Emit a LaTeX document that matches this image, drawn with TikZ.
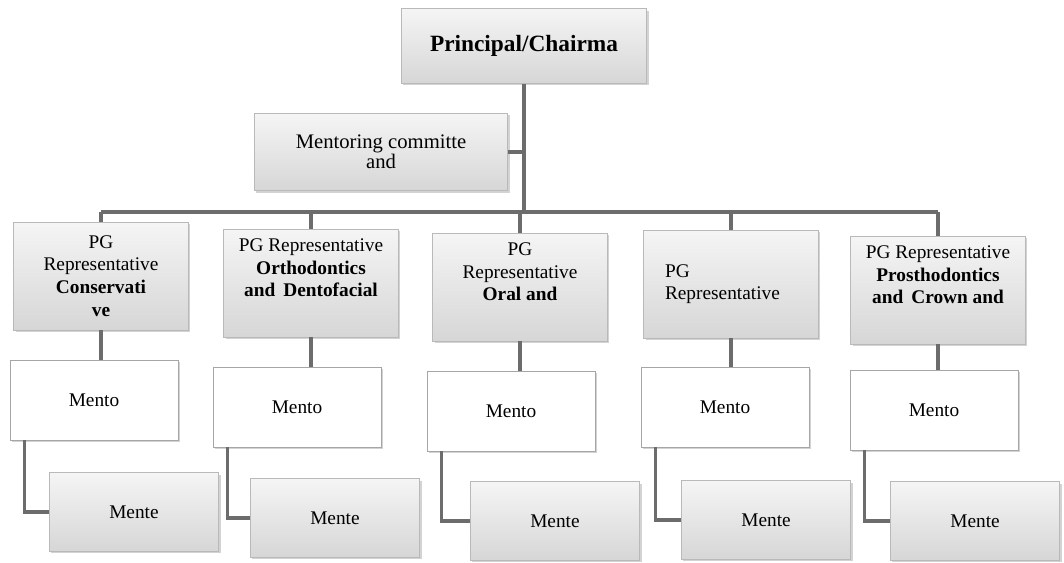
\documentclass[tikz,border=0pt]{standalone}
\usepackage{fontspec}
\setmainfont{Liberation Serif}
\usetikzlibrary{calc,shapes,arrows,shadows}

\tikzset{
  grybox/.style={draw=gray!55, top color=gray!8, bottom color=gray!32,
    drop shadow={shadow xshift=1.5pt, shadow yshift=-1.5pt, opacity=.35},
    align=center, inner sep=2pt},
  whtbox/.style={draw=gray!70, fill=white,
    drop shadow={shadow xshift=1.5pt, shadow yshift=-1.5pt, opacity=.35},
    minimum width=126pt, minimum height=60pt},
  pgbox/.style={grybox, minimum width=131pt, minimum height=81pt,
    font=\fontsize{14.5}{17}\selectfont},
  link/.style={draw=gray!85!black, line width=2.6pt},
}

\begin{document}
\begin{tikzpicture}[x=0.75pt,y=-0.75pt]
    \useasboundingbox (0,0) rectangle (1064,562);

    % top of the chart
    \node[grybox, minimum width=184pt, minimum height=56pt,
        font=\fontsize{17.5}{20}\selectfont\bfseries] (principal) at (524,46) {Principal/Chairma};
    \node[grybox, minimum width=190pt, minimum height=58pt,
        font=\fontsize{15.5}{14}\selectfont] (mentcom) at (381,152) {Mentoring committe\\and};
    \coordinate (hub) at (522,212);

    % PG representatives
    \node[pgbox] (p1) at (101,276) {PG\\Representative\\\textbf{Conservati}\\\textbf{ve}};
    \node[pgbox] (p2) at (311,283) {PG Representative\\\textbf{Orthodontics}\\\textbf{and\, Dentofacial}\\[6pt]};
    \node[pgbox] (p3) at (520,287) {PG\\Representative\\\textbf{Oral and}\\[6pt]};
    \node[pgbox, text width=99pt, align=left, inner xsep=16pt] (p4) at (731,284) {PG\\Representative};
    \node[pgbox] (p5) at (938,290) {PG Representative\\\textbf{Prosthodontics}\\\textbf{and\, Crown and}\\[6pt]};

    \draw[link] (principal.south) -- (principal.south |- hub);
    \draw[link] (mentcom.east) -- (mentcom.east -| hub);
    \draw[link] (p1.north |- hub) -- (p5.north |- hub);
    \foreach \i in {1,...,5}
        \draw[link] (p\i.north) -- (p\i.north |- hub);

    % mentors and mentees
    \foreach \i/\mx/\my/\ex/\ey in {1/94/400/134/512, 2/297/407/335/518,
        3/511/411/555/521, 4/725/407/766/520, 5/934/410/975/521}
    {
        \node[whtbox, font=\fontsize{14.5}{16}\selectfont] (m\i) at (\mx,\my) {Mento};
        \node[grybox, minimum width=127pt, minimum height=59pt,
            font=\fontsize{14.5}{16}\selectfont] (e\i) at (\ex,\ey) {Mente};
        \draw[link] (p\i.south) -- (p\i.south |- m\i.north);
        \draw[link] ([xshift=11pt]m\i.south west) |- (e\i.west);
    }
\end{tikzpicture}
\end{document}
